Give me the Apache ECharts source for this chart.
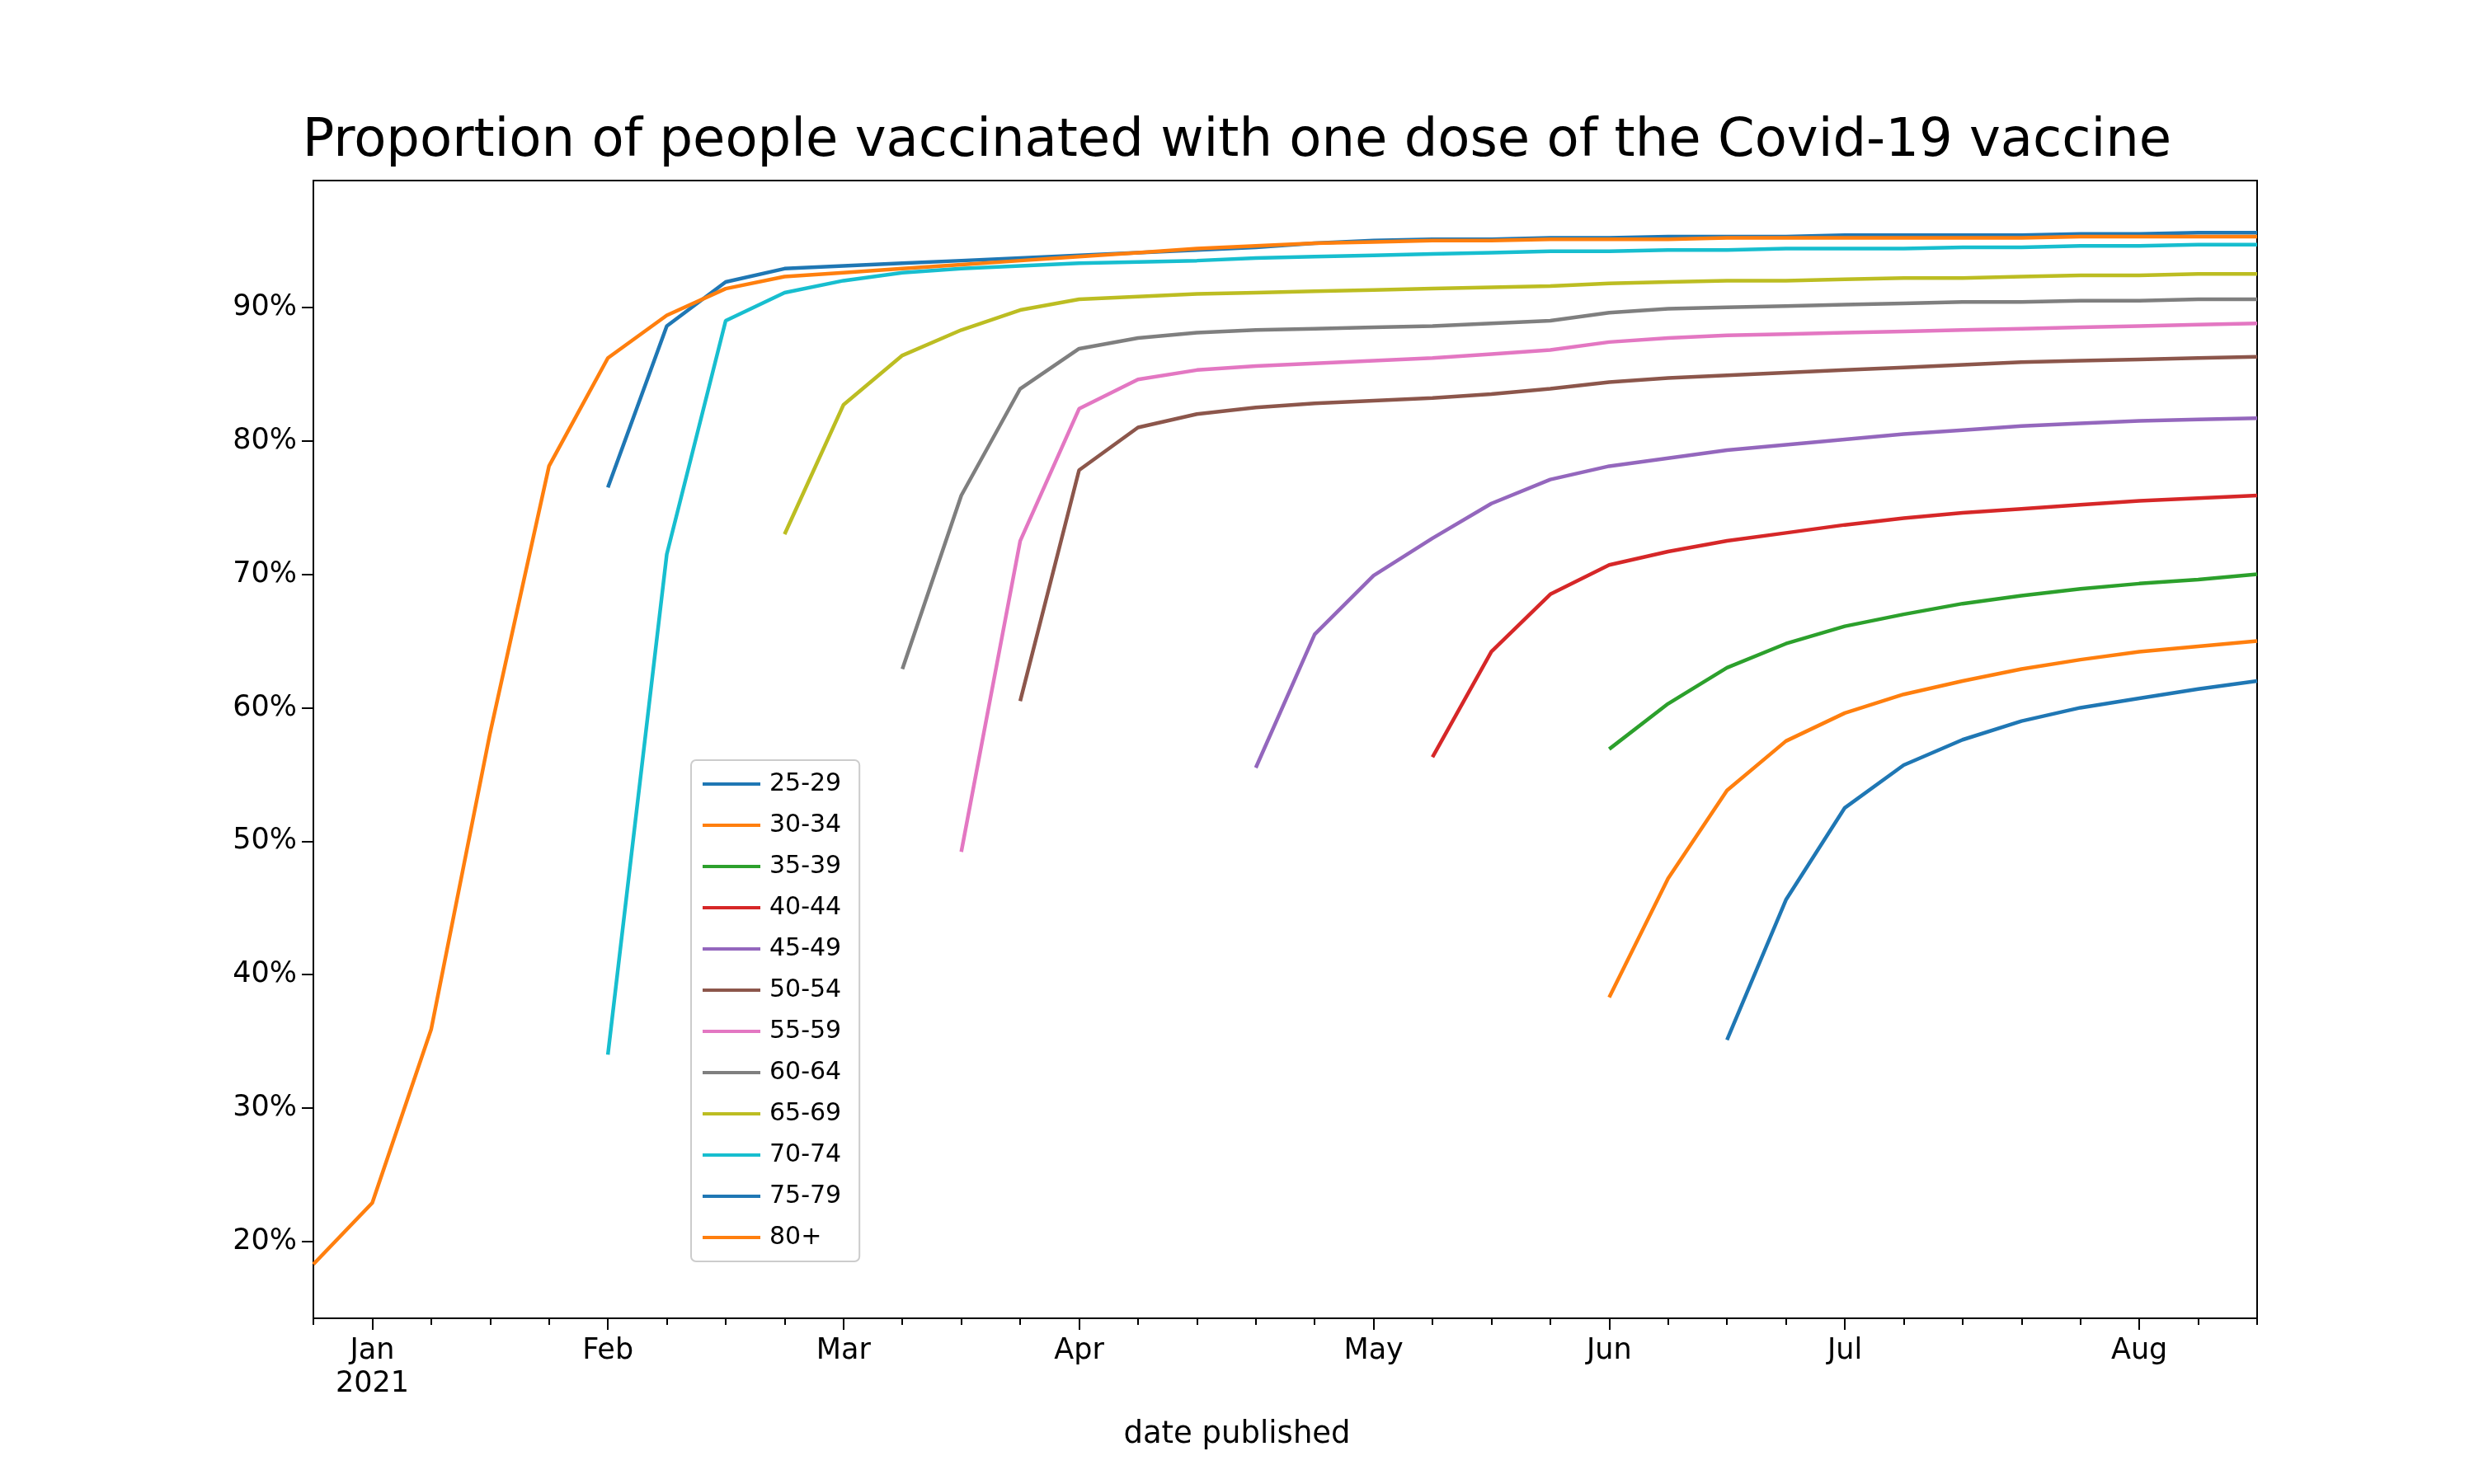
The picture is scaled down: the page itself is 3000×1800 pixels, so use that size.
<!DOCTYPE html>
<html><head><meta charset="utf-8">
<script src="https://cdn.jsdelivr.net/npm/echarts@6/dist/echarts.min.js"></script>
<style>html,body{margin:0;background:#fff}#c{width:3000px;height:1800px}</style>
</head><body><div id="c"></div>
<script>
// weekly points, index 0 = last week of Dec 2020
var weeks = [];
for (var i = 0; i < 34; i++) weeks.push(i);
var monthTicks = {1: 'Jan\n2021', 5: 'Feb', 9: 'Mar', 13: 'Apr', 18: 'May', 22: 'Jun', 26: 'Jul', 31: 'Aug'};

var ages = ['25-29','30-34','35-39','40-44','45-49','50-54','55-59','60-64','65-69','70-74','75-79','80+'];
var colors = ['#1f77b4','#ff7f0e','#2ca02c','#d62728','#9467bd','#8c564b','#e377c2','#7f7f7f','#bcbd22','#17becf','#1f77b4','#ff7f0e'];

var v80 = [18.3,22.9,35.9,58.1,78.1,86.2,89.4,91.4,92.3,92.6,92.9,93.2,93.5,93.8,94.1,94.4,94.6,94.8,94.9,95.0,95.0,95.1,95.1,95.1,95.2,95.2,95.2,95.2,95.2,95.2,95.3,95.3,95.3,95.3];
var v75 = [null,null,null,null,null,76.5,88.6,91.9,92.9,93.1,93.3,93.5,93.7,93.9,94.1,94.3,94.5,94.8,95.0,95.1,95.1,95.2,95.2,95.3,95.3,95.3,95.4,95.4,95.4,95.4,95.5,95.5,95.6,95.6];
var v70 = [null,null,null,null,null,34.0,71.5,89.0,91.1,92.0,92.6,92.9,93.1,93.3,93.4,93.5,93.7,93.8,93.9,94.0,94.1,94.2,94.2,94.3,94.3,94.4,94.4,94.4,94.5,94.5,94.6,94.6,94.7,94.7];
var v65 = [null,null,null,null,null,null,null,null,73.0,82.7,86.4,88.3,89.8,90.6,90.8,91.0,91.1,91.2,91.3,91.4,91.5,91.6,91.8,91.9,92.0,92.0,92.1,92.2,92.2,92.3,92.4,92.4,92.5,92.5];
var v60 = [null,null,null,null,null,null,null,null,null,null,62.9,75.9,83.9,86.9,87.7,88.1,88.3,88.4,88.5,88.6,88.8,89.0,89.6,89.9,90.0,90.1,90.2,90.3,90.4,90.4,90.5,90.5,90.6,90.6];
var v55 = [null,null,null,null,null,null,null,null,null,null,null,49.2,72.5,82.4,84.6,85.3,85.6,85.8,86.0,86.2,86.5,86.8,87.4,87.7,87.9,88.0,88.1,88.2,88.3,88.4,88.5,88.6,88.7,88.8];
var v50 = [null,null,null,null,null,null,null,null,null,null,null,null,60.5,77.8,81.0,82.0,82.5,82.8,83.0,83.2,83.5,83.9,84.4,84.7,84.9,85.1,85.3,85.5,85.7,85.9,86.0,86.1,86.2,86.3];
var v45 = [null,null,null,null,null,null,null,null,null,null,null,null,null,null,null,null,55.5,65.5,69.9,72.7,75.3,77.1,78.1,78.7,79.3,79.7,80.1,80.5,80.8,81.1,81.3,81.5,81.6,81.7];
var v40 = [null,null,null,null,null,null,null,null,null,null,null,null,null,null,null,null,null,null,null,56.3,64.2,68.5,70.7,71.7,72.5,73.1,73.7,74.2,74.6,74.9,75.2,75.5,75.7,75.9];
var v35 = [null,null,null,null,null,null,null,null,null,null,null,null,null,null,null,null,null,null,null,null,null,null,56.9,60.3,63.0,64.8,66.1,67.0,67.8,68.4,68.9,69.3,69.6,70.0];
var v30 = [null,null,null,null,null,null,null,null,null,null,null,null,null,null,null,null,null,null,null,null,null,null,38.3,47.2,53.8,57.5,59.6,61.0,62.0,62.9,63.6,64.2,64.6,65.0];
var v25 = [null,null,null,null,null,null,null,null,null,null,null,null,null,null,null,null,null,null,null,null,null,null,null,null,35.1,45.6,52.5,55.7,57.6,59.0,60.0,60.7,61.4,62.0];
var values = [v25,v30,v35,v40,v45,v50,v55,v60,v65,v70,v75,v80];
var yTicks = [20,30,40,50,60,70,80,90];

var font = 'DejaVu Sans';
var myChart = echarts.init(document.getElementById('c'));
var series = ages.map(function (a, k) {
    return {
        name: a, type: 'line', data: values[k], showSymbol: false,
        lineStyle: {width: 4.5, color: colors[k]}, itemStyle: {color: colors[k]},
        animation: false
    };
});
var catAxis = function (labels, major) {
    return {
        type: 'category', data: weeks, boundaryGap: false, position: 'bottom',
        axisLine: {show: major, lineStyle: {color: '#000', width: 2}},
        axisTick: {show: true, inside: false, length: major ? 14 : 8,
            lineStyle: {color: '#000', width: 2},
            interval: function (i) { return major ? monthTicks[i] !== undefined : true; }},
        axisLabel: {show: labels, interval: function (i) { return monthTicks[i] !== undefined; },
            formatter: function (v) { return monthTicks[v] || ''; },
            fontFamily: font, fontSize: 35, color: '#000', margin: 20, lineHeight: 40},
        splitLine: {show: false}
    };
};
option = {
    backgroundColor: '#fff',
    title: {text: 'Proportion of people vaccinated with one dose of the Covid-19 vaccine',
        left: 'center', top: 135, textStyle: {fontFamily: font, fontWeight: 'normal', fontSize: 64, color: '#000'}},
    grid: {left: 380, right: 263, top: 219, bottom: 201, show: true, borderColor: '#000', borderWidth: 2},
    xAxis: [catAxis(true, true), catAxis(false, false)],
    yAxis: {
        type: 'value', min: 14.25, max: 99.5,
        axisLine: {show: true, lineStyle: {color: '#000', width: 2}},
        axisTick: {show: true, length: 14, lineStyle: {color: '#000', width: 2}, customValues: yTicks},
        axisLabel: {customValues: yTicks, formatter: '{value}%', fontFamily: font, fontSize: 35, color: '#000', margin: 20},
        splitLine: {show: false}
    },
    legend: {
        orient: 'vertical', left: 838, top: 922, data: ages,
        backgroundColor: '#fff', borderColor: '#ccc', borderWidth: 2, borderRadius: 6,
        padding: [14, 22, 14, 14], itemGap: 20, itemWidth: 70, itemHeight: 32,
        icon: 'path://M0,14 L70,14 L70,18 L0,18 Z',
        textStyle: {fontFamily: font, fontSize: 30, color: '#000', padding: [0, 0, 0, 6]}
    },
    graphic: [{type: 'text', left: 'center', top: 1722, style: {text: 'date published', font: '37px "DejaVu Sans"', fill: '#000'}}],
    series: series
};
myChart.setOption(option, true);
</script></body></html>
